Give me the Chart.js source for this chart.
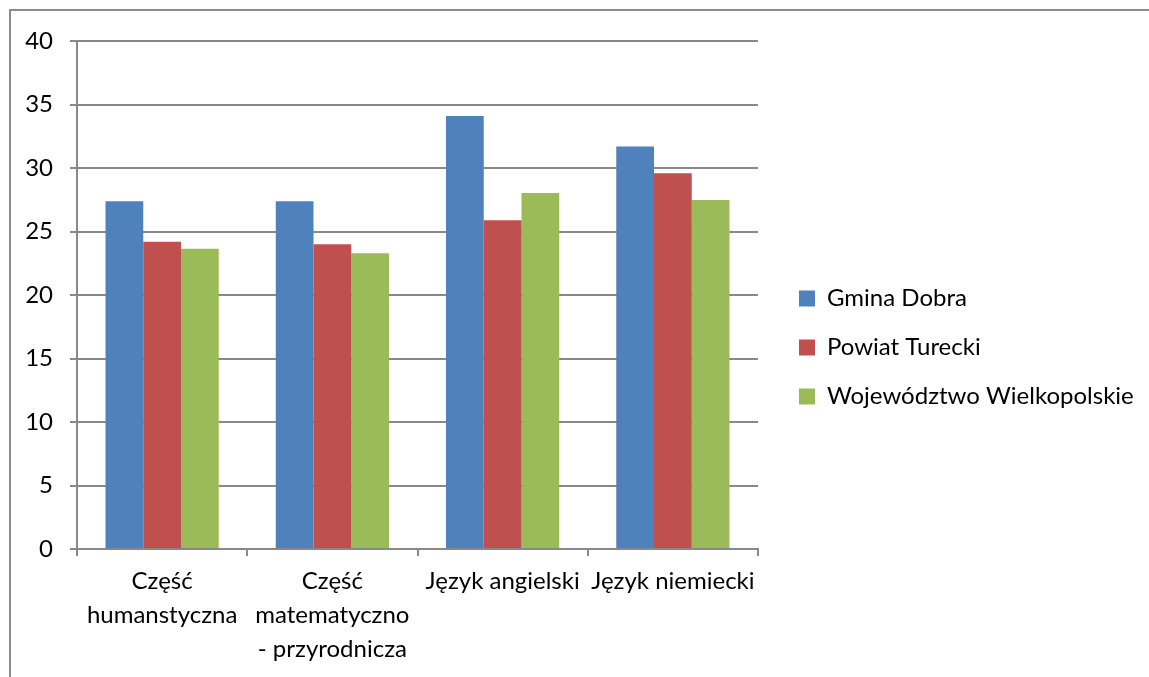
<!DOCTYPE html>
<html>
	<head>
		<meta charset="utf-8">
		<script src="https://cdn.jsdelivr.net/npm/chart.js"></script>
		<style>
			body { margin: 0; background: #fff; overflow: hidden; }
			#frame {
				position: absolute; left: 9px; top: 9px;
				width: 1160px; height: 700px;
				border: 2px solid #8c8c8c;
			}
		</style>
	</head>

	<body>
		<div id="frame">
			<canvas id="myChart" width="1160" height="700"></canvas>
		</div>

		<script>
			const categories = [
				['Część', 'humanstyczna'],
				['Część', 'matematyczno', '- przyrodnicza'],
				'Język angielski',
				'Język niemiecki',
			];
			const seriesNames = ['Gmina Dobra', 'Powiat Turecki', 'Województwo Wielkopolskie'];
			const gminaDobra = [27.4, 27.4, 34.1, 31.7];
			const powiatTurecki = [24.2, 24.0, 25.9, 29.6];
			const wojewodztwo = [23.65, 23.3, 28.05, 27.5];
			const colors = ['#4f81bd', '#c0504d', '#9bbb59'];

			const gridColor = '#898989';
			const font = { family: 'Lato', size: 24, lineHeight: 1.42 };

			// put the legend where the original had it (and don't clip the long label)
			const legendShift = {
				id: 'legendShift',
				afterLayout(chart) {
					const lg = chart.legend;
					lg.left = chart.chartArea.right + 16;
					lg.right = chart.width;
					lg.width = lg.right - lg.left;
					lg.top -= 10;
					lg.bottom -= 10;
				},
			};

			const data = {
				labels: categories,
				datasets: [gminaDobra, powiatTurecki, wojewodztwo].map((vals, i) => ({
					label: seriesNames[i],
					data: vals,
					backgroundColor: colors[i],
					borderWidth: 0,
					barPercentage: 1,
					categoryPercentage: 0.665,
				})),
			};

			const options = {
				animation: false,
				responsive: false,
				layout: {
					padding: { top: 29, right: 164, bottom: 36, left: 0 },
				},
				scales: {
					x: {
						offset: true,
						grid: {
							offset: true,
							drawOnChartArea: false,
							color: gridColor,
							lineWidth: 2,
							tickLength: 7,
						},
						border: { color: gridColor, width: 2 },
						ticks: { color: '#000', font, padding: 8, maxRotation: 0, autoSkip: false },
						afterFit(scale) { scale.height = 126; },
					},
					y: {
						min: 0,
						max: 40,
						grid: { color: gridColor, lineWidth: 2, tickLength: 7 },
						border: { color: gridColor, width: 2 },
						ticks: {
							stepSize: 5,
							color: '#000',
							font: { family: 'Lato', size: 24, lineHeight: 1.1 },
							padding: 17,
						},
						afterFit(scale) { scale.width = 66; },
					},
				},
				plugins: {
					legend: {
						position: 'right',
						labels: {
							color: '#000',
							font,
							boxWidth: 16,
							boxHeight: 16,
							padding: 25,
						},
					},
					tooltip: { enabled: false },
				},
			};

			new Chart(document.getElementById('myChart'), {
				type: 'bar',
				data,
				options,
				plugins: [legendShift],
			});
		</script>
	</body>
</html>
